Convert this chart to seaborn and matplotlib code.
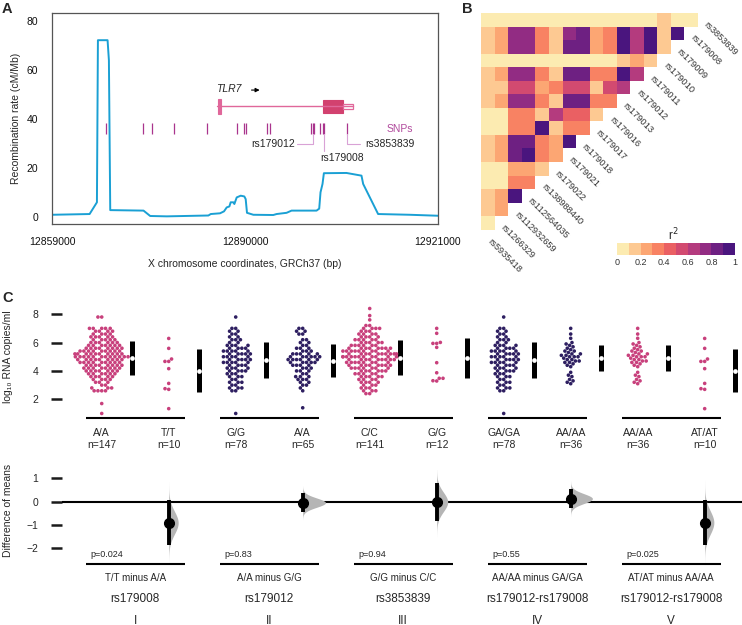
import numpy as np
import pandas as pd
import matplotlib
matplotlib.use("Agg")
import matplotlib.pyplot as plt
import matplotlib.transforms as mtransforms
from matplotlib.colors import ListedColormap, Normalize
from matplotlib.cm import ScalarMappable
from matplotlib.patches import Rectangle
import seaborn as sns

sns.set_theme(style="white")
plt.rcParams['font.family'] = ['Liberation Sans', 'DejaVu Sans']

# ---------------- panel A data ----------------
rec_pos = [12859000, 12865040, 12866216, 12866376, 12867926, 12868140, 12868354, 12873700,
           12874770, 12877440, 12884120, 12884500, 12885990, 12886630, 12887060, 12887490,
           12887700, 12888130, 12888290, 12888670, 12889310, 12889890, 12890110, 12890320,
           12891340, 12894540, 12895080, 12896680, 12897480, 12901490, 12901920, 12902130,
           12902450, 12902670, 12906300, 12908710, 12908980, 12911380, 12916460, 12921000]
rec_rate = [0.8, 1.1, 5.9, 72.2, 72.2, 64.0, 2.7, 2.5, 0.3, 0.15, 0.5, 1.1, 1.4, 2.2, 3.8, 4.2,
            5.9, 5.9, 5.2, 7.9, 8.6, 8.3, 7.2, 1.6, 0.8, 0.7, 1.1, 1.6, 2.5, 2.5, 3.3, 10.0,
            13.4, 17.8, 17.9, 16.8, 13.4, 1.1, 0.8, 0.4]
snp_pos = [12867625, 12873665, 12875110, 12878644, 12883945, 12888667, 12889791, 12890112,
           12893485, 12894015, 12900600, 12900873, 12901130, 12902046, 12902480, 12902737,
           12906431]
tlr7_span = (12885500, 12907300)
tlr7_exon1 = (12885700, 12886100)
tlr7_cds = (12902580, 12905690)
tlr7_utr = (12905690, 12907300)

# ---------------- panel B data (r^2, rows top -> bottom) ----------------
ld_labels = ['rs3853839', 'rs179008', 'rs179009', 'rs179010', 'rs179011', 'rs179012',
             'rs179013', 'rs179016', 'rs179017', 'rs179018', 'rs179021', 'rs179022',
             'rs138988440', 'rs112564035', 'rs112932659', 'rs1266329', 'rs5935418']
ld_rows = [
    [.05, .05, .05, .05, .05, .05, .05, .05, .05, .05, .05, .05, .05, .15, .05, .05],
    [.15, .25, .75, .75, .35, .15, .75, .85, .25, .35, .95, .65, .95, .15, .95],
    [.15, .25, .75, .75, .35, .15, .85, .85, .25, .35, .95, .65, .95, .15],
    [.05, .05, .05, .05, .05, .05, .05, .05, .05, .05, .15, .25, .15],
    [.15, .25, .75, .75, .35, .15, .85, .85, .35, .35, .95, .65],
    [.15, .15, .55, .55, .25, .35, .55, .55, .15, .55, .65],
    [.15, .25, .75, .75, .35, .15, .85, .85, .35, .35],
    [.05, .05, .35, .35, .15, .65, .45, .45, .15],
    [.05, .05, .35, .35, .95, .15, .35, .35],
    [.15, .25, .85, .85, .35, .25, .95],
    [.15, .25, .85, .95, .35, .25],
    [.05, .05, .25, .25, .15],
    [.05, .05, .35, .35],
    [.15, .25, .95],
    [.15, .25],
    [.05],
]
ld_colors = ['#fcebb1', '#fdc992', '#fca673', '#f88263', '#ea6063',
             '#d24a70', '#b43b7e', '#922c83', '#6e2082', '#4a157e']

# ---------------- panel C data ----------------
group_names = ['A/A', 'T/T', 'G/G', 'A/A', 'C/C', 'G/G', 'GA/GA', 'AA/AA', 'AA/AA', 'AT/AT']
pink = '#c8407c'
navy = '#2e1f61'
group_colors = [pink, pink, navy, navy, pink, pink, navy, navy, pink, pink]

aa_179008_lv = [7.8, 7.0, 6.8, 6.6, 6.4, 6.2, 6.0, 5.8, 5.6, 5.4, 5.2, 5.0, 4.8, 4.6, 4.4, 4.2,
                4.0, 3.8, 3.6, 3.4, 3.2, 3.0, 2.8, 2.6, 1.7, 1.0]
aa_179008_n = [2, 5, 4, 4, 5, 5, 6, 7, 8, 9, 10, 12, 9, 9, 8, 8, 7, 6, 5, 4, 3, 2, 3, 4, 1, 1]
tt_179008 = [6.29, 5.59, 4.84, 4.67, 4.67, 4.16, 3.12, 2.75, 2.70, 1.34]
gg_179012_lv = [7.8, 7.0, 6.8, 6.6, 6.4, 6.2, 6.0, 5.8, 5.6, 5.4, 5.2, 5.0, 4.8, 4.6, 4.4, 4.2,
                4.0, 3.8, 3.6, 3.4, 3.2, 3.0, 2.8, 2.6, 1.0]
gg_179012_n = [1, 2, 2, 2, 2, 3, 2, 4, 4, 5, 5, 5, 5, 5, 4, 4, 4, 3, 3, 2, 3, 2, 3, 2, 1]
aa_179012_lv = [7.0, 6.8, 6.6, 6.2, 6.0, 5.8, 5.6, 5.4, 5.2, 5.0, 4.8, 4.6, 4.4, 4.2, 4.0, 3.8,
                3.6, 3.4, 3.2, 3.0, 2.8, 2.6, 1.4]
aa_179012_n = [2, 2, 2, 2, 2, 2, 3, 3, 5, 6, 6, 5, 4, 3, 3, 2, 3, 3, 2, 2, 1, 1, 1]
cc_3853839_lv = [8.4, 7.9, 7.6, 7.2, 7.0, 6.8, 6.6, 6.4, 6.2, 6.0, 5.8, 5.6, 5.4, 5.2, 5.0, 4.8,
                 4.6, 4.4, 4.2, 4.0, 3.8, 3.6, 3.4, 3.2, 3.0, 2.8, 2.6, 2.4]
cc_3853839_n = [1, 1, 1, 2, 4, 3, 4, 4, 5, 5, 6, 8, 9, 10, 11, 9, 8, 8, 7, 6, 5, 5, 4, 4, 3, 3,
                3, 2]
gg_3853839 = [7.0, 6.65, 6.01, 5.94, 5.94, 5.66, 4.58, 3.87, 3.48, 3.48, 3.31, 3.29]
gaga_lv = [7.8, 7.0, 6.8, 6.6, 6.4, 6.2, 6.0, 5.8, 5.6, 5.4, 5.2, 5.0, 4.8, 4.6, 4.4, 4.2,
           4.0, 3.8, 3.6, 3.4, 3.2, 3.0, 2.8, 2.6, 1.0]
gaga_n = [1, 2, 2, 2, 2, 3, 2, 4, 4, 5, 5, 5, 5, 5, 4, 4, 4, 3, 3, 2, 3, 2, 3, 2, 1]
aaaa_navy = [7.0, 6.6, 6.3, 6.0, 5.9, 5.8, 5.7, 5.6, 5.5, 5.4, 5.4, 5.3, 5.2, 5.2, 5.1, 5.1,
             5.0, 5.0, 5.0, 4.9, 4.8, 4.8, 4.7, 4.7, 4.6, 4.6, 4.5, 4.4, 4.3, 3.9, 3.7, 3.6,
             3.4, 3.3, 3.2, 3.1]
aaaa_pink = [7.0, 6.6, 6.3, 6.0, 5.9, 5.8, 5.7, 5.6, 5.5, 5.4, 5.4, 5.3, 5.2, 5.2, 5.1, 5.1,
             5.0, 5.0, 5.0, 4.9, 4.8, 4.8, 4.7, 4.7, 4.6, 4.6, 4.5, 4.4, 4.3, 3.9, 3.7, 3.6,
             3.4, 3.3, 3.2, 3.1]
atat = [6.29, 5.59, 4.84, 4.67, 4.67, 4.16, 3.12, 2.75, 2.70, 1.34]

comparisons = ['T/T minus A/A', 'A/A minus G/G', 'G/G minus C/C', 'AA/AA minus GA/GA',
               'AT/AT minus AA/AA']
comp_snps = ['rs179008', 'rs179012', 'rs3853839', 'rs179012-rs179008', 'rs179012-rs179008']
comp_p = ['p=0.024', 'p=0.83', 'p=0.94', 'p=0.55', 'p=0.025']
comp_roman = ['I', 'II', 'III', 'IV', 'V']

groups = [
    np.repeat(aa_179008_lv, aa_179008_n), np.array(tt_179008),
    np.repeat(gg_179012_lv, gg_179012_n), np.repeat(aa_179012_lv, aa_179012_n),
    np.repeat(cc_3853839_lv, cc_3853839_n), np.array(gg_3853839),
    np.repeat(gaga_lv, gaga_n), np.array(aaaa_navy),
    np.array(aaaa_pink), np.array(atat),
]

W, H = 742, 625
fig = plt.figure(figsize=(W / 100, H / 100), dpi=100)


def px_axes(x0, y0, x1, y1):
    return fig.add_axes([x0 / W, 1 - y1 / H, (x1 - x0) / W, (y1 - y0) / H])


# ================= Panel A =================
axA = px_axes(52, 13.3, 438, 224.3)
axA.plot(rec_pos, rec_rate, color='#1aa0d4', lw=1.4)
axA.set_xlim(12859000, 12921000)
axA.set_ylim(-3.1, 83.2)
axA.set_xticks([12859000, 12890000, 12921000])
axA.set_xticklabels(['12859000', '12890000', '12921000'])
axA.set_yticks([0, 20, 40, 60, 80])
axA.tick_params(length=0, labelsize=7.5, colors='#111')
axA.tick_params(axis='y', pad=10)
axA.tick_params(axis='x', pad=9)
for s in axA.spines.values():
    s.set_color('#555')
    s.set_linewidth(0.9)
axA.set_xlabel('X chromosome coordinates, GRCh37 (bp)', fontsize=7.5, labelpad=9)
axA.set_ylabel('Recombination rate (cM/Mb)', fontsize=7.5, labelpad=4)

gene_c = '#e0679a'
axA.plot(tlr7_span, [45.1, 45.1], color=gene_c, lw=1.0)
axA.add_patch(Rectangle((tlr7_exon1[0], 42.0), tlr7_exon1[1] - tlr7_exon1[0], 6.0,
                        facecolor=gene_c, edgecolor=gene_c, lw=0.8))
axA.add_patch(Rectangle((tlr7_cds[0], 42.5), tlr7_cds[1] - tlr7_cds[0], 5.2,
                        facecolor='#d2416f', edgecolor='#d2416f', lw=0.8))
axA.add_patch(Rectangle((tlr7_utr[0], 44.0), tlr7_utr[1] - tlr7_utr[0], 2.0,
                        facecolor='white', edgecolor=gene_c, lw=0.9))
axA.text(12885400, 52.3, 'TLR7', style='italic', fontsize=7.5, va='center', ha='left')
axA.annotate('', xy=(12892800, 51.8), xytext=(12890600, 51.8),
             arrowprops=dict(arrowstyle='-|>', color='black', lw=0.8, mutation_scale=6))

axA.vlines(snp_pos, 34.0, 38.3, color='#a9348d', lw=0.9)
axA.text(12912760, 35.9, 'SNPs', color='#b14a9d', fontsize=7.5, va='center', ha='left')
call_c = '#d9a2d6'
s12, s08, s39 = snp_pos[11], snp_pos[15], snp_pos[16]
axA.plot([12898400, s12, s12], [29.6, 29.6, 34.0], color=call_c, lw=0.8)
axA.text(12898100, 29.6, 'rs179012', fontsize=7.5, va='center', ha='right')
axA.plot([s08, s08], [34.0, 26.9], color=call_c, lw=0.8)
axA.text(12902160, 23.9, 'rs179008', fontsize=7.5, va='center', ha='left')
axA.plot([s39, s39, 12908470], [34.0, 29.6, 29.6], color=call_c, lw=0.8)
axA.text(12909300, 29.6, 'rs3853839', fontsize=7.5, va='center', ha='left')

# ================= Panel B =================
axB = px_axes(481.3, 13, 698, 229.7)
n_ld = len(ld_rows)
ld_mat = np.full((n_ld, n_ld), np.nan)
for r, row in enumerate(ld_rows):
    ld_mat[r, :len(row)] = row
ld_cmap = ListedColormap(ld_colors)
sns.heatmap(ld_mat, cmap=ld_cmap, vmin=0, vmax=1, cbar=False, xticklabels=False,
            yticklabels=False, ax=axB)
axB.set_xlim(0, n_ld)
axB.set_ylim(n_ld, 0)
axB.axis('off')
for k, lab in enumerate(ld_labels):
    axB.text(n_ld - k + 0.55, k + 0.75, lab, rotation=-45, rotation_mode='anchor',
             ha='left', va='center', fontsize=6.7, color='#333', clip_on=False)

axCB = px_axes(617, 243.3, 735, 255)
cb = fig.colorbar(ScalarMappable(norm=Normalize(0, 1), cmap=ld_cmap), cax=axCB,
                  orientation='horizontal', ticks=[0, 0.2, 0.4, 0.6, 0.8, 1])
cb.set_ticklabels(['0', '0.2', '0.4', '0.6', '0.8', '1'])
cb.outline.set_visible(False)
axCB.tick_params(length=0, pad=2, labelsize=6.5, colors='#333')
fig.text(673 / W, 1 - 235 / H, 'r$^2$', fontsize=8.5, ha='center', va='center')

# ================= Panel C (top) =================
xlo, xhi = -0.593, 9.557
axC = px_axes(62, 300, W, 420)
keys = [f'g{i}' for i in range(len(groups))]
df = pd.DataFrame({'key': np.concatenate([[k] * len(g) for k, g in zip(keys, groups)]),
                   'value': np.concatenate(groups)})
sns.swarmplot(data=df, x='key', y='value', hue='key', order=keys,
              palette=dict(zip(keys, group_colors)), size=2.6, linewidth=0,
              legend=False, ax=axC, warn_thresh=1)
for i, g in enumerate(groups):
    m, sd = g.mean(), g.std(ddof=1)
    axC.vlines(i + 0.45, m - sd, m + sd, color='black', lw=3.6)
    axC.plot(i + 0.45, m, 'o', color='white', ms=3.4, mec='none')
for p in range(5):
    axC.hlines(0.66, 2 * p - 0.24, 2 * p + 1.24, color='black', lw=1.5, clip_on=False)
axC.set_xlim(xlo, xhi)
axC.set_ylim(0.54, 9.0)
axC.set_yticks([2, 4, 6, 8])
axC.set_xticks([])
axC.set_xlabel('')
axC.set_ylabel('')
axC.tick_params(axis='y', left=True, length=8, width=1.8, pad=9, labelsize=7.5,
                color='#1a1a1a')
sns.despine(ax=axC, left=True, bottom=True)
tC = mtransforms.blended_transform_factory(axC.transData, fig.transFigure)
for i, g in enumerate(groups):
    axC.text(i, 1 - 433.3 / H, group_names[i], transform=tC, ha='center', va='center',
             fontsize=7.5)
    axC.text(i, 1 - 445.5 / H, f'n={len(g)}', transform=tC, ha='center', va='center',
             fontsize=7.5)
fig.text(8 / W, 1 - 357 / H, 'log\u2081\u2080 RNA copies/ml', rotation=90, ha='center',
         va='center', fontsize=7.5)

# ================= Panel C (bottom) =================
axD = px_axes(62, 470, W, 566)
axD.axhline(0, color='black', lw=1.5, zorder=1)
dens_scale = 0.172
for j in range(5):
    a, b = groups[2 * j], groups[2 * j + 1]
    xb = 2 * j + 1
    diff = b.mean() - a.mean()
    se = np.sqrt(a.var(ddof=1) / len(a) + b.var(ddof=1) / len(b))
    ys = np.linspace(diff - 3.6 * se, diff + 3.6 * se, 300)
    pdf = np.exp(-0.5 * ((ys - diff) / se) ** 2) / (se * np.sqrt(2 * np.pi))
    axD.fill_betweenx(ys, xb, xb + dens_scale * pdf, color='#b5b5b5', lw=0, zorder=2)
    axD.vlines(xb, diff - 1.96 * se, diff + 1.96 * se, color='black', lw=2.8, zorder=3)
    axD.plot(xb, diff, 'o', color='black', ms=7, zorder=4)
    axD.hlines(-2.69, 2 * j - 0.24, 2 * j + 1.24, color='black', lw=1.5, clip_on=False)
    axD.text(2 * j - 0.175, -2.25, comp_p[j], ha='left', va='center', fontsize=6.5)
axD.set_xlim(xlo, xhi)
axD.set_ylim(-2.756, 1.359)
axD.set_yticks([-2, -1, 0, 1])
axD.set_yticklabels(['\u22122', '\u22121', '0', '1'])
axD.set_xticks([])
axD.tick_params(axis='y', left=True, length=8, width=1.8, pad=9, labelsize=7.5,
                color='#1a1a1a')
sns.despine(ax=axD, left=True, bottom=True)
tD = mtransforms.blended_transform_factory(axD.transData, fig.transFigure)
for j in range(5):
    xm = 2 * j + 0.5
    axD.text(xm, 1 - 578.3 / H, comparisons[j], transform=tD, ha='center', va='center',
             fontsize=7)
    axD.text(xm, 1 - 599.3 / H, comp_snps[j], transform=tD, ha='center', va='center',
             fontsize=8.5)
    axD.text(xm, 1 - 620.5 / H, comp_roman[j], transform=tD, ha='center', va='center',
             fontsize=8.5)
fig.text(8 / W, 1 - 510 / H, 'Difference of means', rotation=90, ha='center',
         va='center', fontsize=7.5)

# panel letters
for lab, x, y in [('A', 2, 2), ('B', 462, 2), ('C', 2, 291)]:
    fig.text(x / W, 1 - y / H, lab, fontsize=10.5, fontweight='bold', ha='left', va='top')

fig.savefig('out.png', dpi=100)
